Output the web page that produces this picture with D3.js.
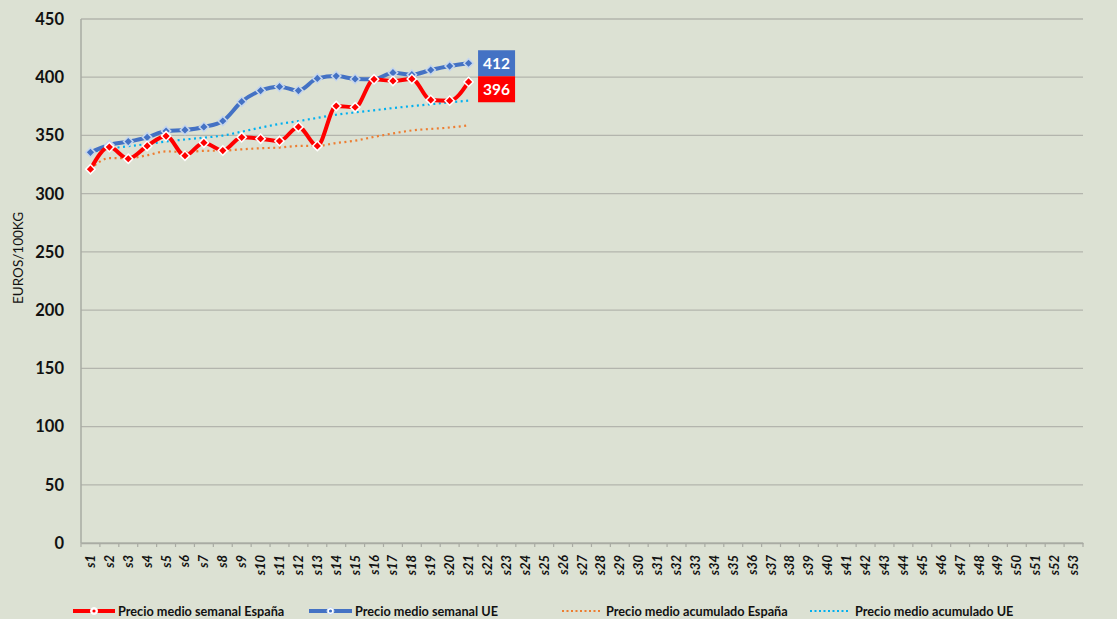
<!DOCTYPE html>
<html><head><meta charset="utf-8">
<script src="https://cdn.jsdelivr.net/npm/d3@7"></script>
<style>
html,body{margin:0;padding:0;background:#dce1d3;}
svg{display:block;font-family:Lato,"Open Sans",sans-serif;}
</style></head>
<body>
<svg id="c" width="1117" height="619"></svg>
<script>
const weeks = d3.range(1, 54).map(i => "s" + i);
const spainWeekly = [321,340,330,341,349.5,332.6,343.8,337,348.4,347.2,345.2,357.3,341,375.3,374.2,398.2,396.8,398.5,380.5,379.9,396];
const euWeekly = [335.5,341.8,344.7,348.4,353.8,354.7,357.3,362.4,379,388.5,391.9,388.5,399,401,398.5,398.2,403.9,402.2,406.2,409.6,412];
const spainCum = [321,330.5,330.4,333,336.3,335.7,336.8,336.9,338.1,339,339.6,341,341.1,343.5,345.5,348.8,351.7,354.3,355.6,356.8,358.7];
const euCum = [335.5,338.7,340.7,342.6,344.8,346.5,348.1,349.9,353.2,356.7,359.9,362.3,365.1,367.8,369.8,371.6,373.5,375.2,376.8,378.4,379.9];
const yTicks = [0,50,100,150,200,250,300,350,400,450];
const legendLabels = ["Precio medio semanal España","Precio medio semanal UE","Precio medio acumulado España","Precio medio acumulado UE"];

const svg = d3.select("#c");
const L = 81, R = 1083, T = 19, B = 543;
const x = d3.scaleBand().domain(weeks).range([L, R]);
const y = d3.scaleLinear().domain([0, 450]).range([B, T]);
const cx = w => x(w) + x.bandwidth() / 2;

// gridlines
svg.append("g").selectAll("line").data(yTicks).join("line")
  .attr("x1", L).attr("x2", R).attr("y1", d => y(d)).attr("y2", d => y(d))
  .attr("stroke", "#b3b5ad").attr("stroke-width", 1.3);

// y axis labels
svg.append("g").selectAll("text").data(yTicks).join("text")
  .attr("x", 64).attr("y", d => y(d)).attr("dy", "0.36em")
  .attr("text-anchor", "end").attr("font-size", 16.5).attr("font-weight", "bold")
  .attr("fill", "#111").text(d => d);

// left axis line
svg.append("line").attr("x1", L).attr("x2", L).attr("y1", T).attr("y2", B)
  .attr("stroke", "#a9aba3").attr("stroke-width", 1.5);

// x axis
const xAxis = svg.append("g").attr("transform", `translate(0,${B})`)
  .call(d3.axisBottom(x).tickSize(0).tickFormat(""));
xAxis.select(".domain").attr("stroke", "#a9aba3").attr("stroke-width", 1.5);
svg.append("g").selectAll("line").data(weeks.concat(["end"])).join("line")
  .attr("x1", (d,i) => L + i * x.step()).attr("x2", (d,i) => L + i * x.step())
  .attr("y1", B).attr("y2", B + 4).attr("stroke", "#a9aba3").attr("stroke-width", 1.2);
svg.append("g").selectAll("text").data(weeks).join("text")
  .attr("transform", d => `translate(${cx(d) + 4.5},${B + 12}) rotate(-90)`)
  .attr("text-anchor", "end").attr("font-size", 13).attr("font-weight", "bold")
  .attr("font-style", "italic").attr("fill", "#111").text(d => d);

// y title
svg.append("text").attr("transform", "translate(23,258) rotate(-90)")
  .attr("text-anchor", "middle").attr("font-size", 13.5).attr("fill", "#111")
  .text("EUROS/100KG");

const line = d3.line().x((d, i) => cx(weeks[i])).y(d => y(d)).curve(d3.curveMonotoneX);

// cumulative dotted
svg.append("path").datum(spainCum).attr("d", line).attr("fill", "none")
  .attr("stroke", "#ed7d31").attr("stroke-width", 2.2).attr("stroke-dasharray", "2,3.5");
svg.append("path").datum(euCum).attr("d", line).attr("fill", "none")
  .attr("stroke", "#00b0f0").attr("stroke-width", 2.2).attr("stroke-dasharray", "2,3.5");

// weekly lines
function drawSeries(data, color, outline) {
  svg.append("path").datum(data).attr("d", line).attr("fill", "none")
    .attr("stroke", color).attr("stroke-width", 4).attr("stroke-linejoin", "round");
  svg.append("g").selectAll("path").data(data).join("path")
    .attr("transform", (d, i) => `translate(${cx(weeks[i])},${y(d)}) rotate(45)`)
    .attr("d", "M-3.3,-3.3H3.3V3.3H-3.3Z").attr("fill", color)
    .attr("stroke", outline).attr("stroke-width", 1.5);
}
drawSeries(euWeekly, "#4472c4", "#c5d6ee");
drawSeries(spainWeekly, "#ff0000", "#ffffff");

// end labels
const lastIdx = spainWeekly.length - 1;
const bx = cx(weeks[lastIdx]) + 9.5, bw = 37, bh = 26;
const blueTop = y(euWeekly[lastIdx]) - bh / 2;
const redTop = Math.max(y(spainWeekly[lastIdx]) - bh / 2, blueTop + bh);
[[blueTop, "#4472c4", euWeekly[lastIdx]], [redTop, "#ff0000", spainWeekly[lastIdx]]].forEach(([t, c, v]) => {
  svg.append("rect").attr("x", bx).attr("y", t).attr("width", bw).attr("height", bh).attr("fill", c);
  svg.append("text").attr("x", bx + bw / 2).attr("y", t + bh / 2).attr("dy", "0.36em")
    .attr("text-anchor", "middle").attr("font-size", 15.5).attr("font-weight", "bold")
    .attr("fill", "#fff").text(Math.round(v));
});

// legend
const ly = 611;
const leg = [
  {x0: 73, x1: 115, tx: 118, color: "#ff0000", type: "solid", outline: "#fff"},
  {x0: 309, x1: 352, tx: 355, color: "#4472c4", type: "solid", outline: "#c5d6ee"},
  {x0: 562, x1: 600, tx: 606, color: "#ed7d31", type: "dot"},
  {x0: 810, x1: 848, tx: 855, color: "#00b0f0", type: "dot"}
];
leg.forEach((g, i) => {
  const l = svg.append("line").attr("x1", g.x0).attr("x2", g.x1).attr("y1", ly).attr("y2", ly)
    .attr("stroke", g.color);
  if (g.type === "solid") {
    l.attr("stroke-width", 4);
    svg.append("circle").attr("cx", (g.x0 + g.x1) / 2).attr("cy", ly).attr("r", 3.5)
      .attr("fill", "#fff").attr("stroke", g.outline);
    svg.append("circle").attr("cx", (g.x0 + g.x1) / 2).attr("cy", ly).attr("r", 1.6).attr("fill", g.color);
  } else {
    l.attr("stroke-width", 2).attr("stroke-dasharray", "2,2.5");
  }
  svg.append("text").attr("x", g.tx).attr("y", ly).attr("dy", "0.36em")
    .attr("font-size", 12.7).attr("font-weight", "bold").attr("fill", "#111").text(legendLabels[i]);
});
</script>
</body></html>
